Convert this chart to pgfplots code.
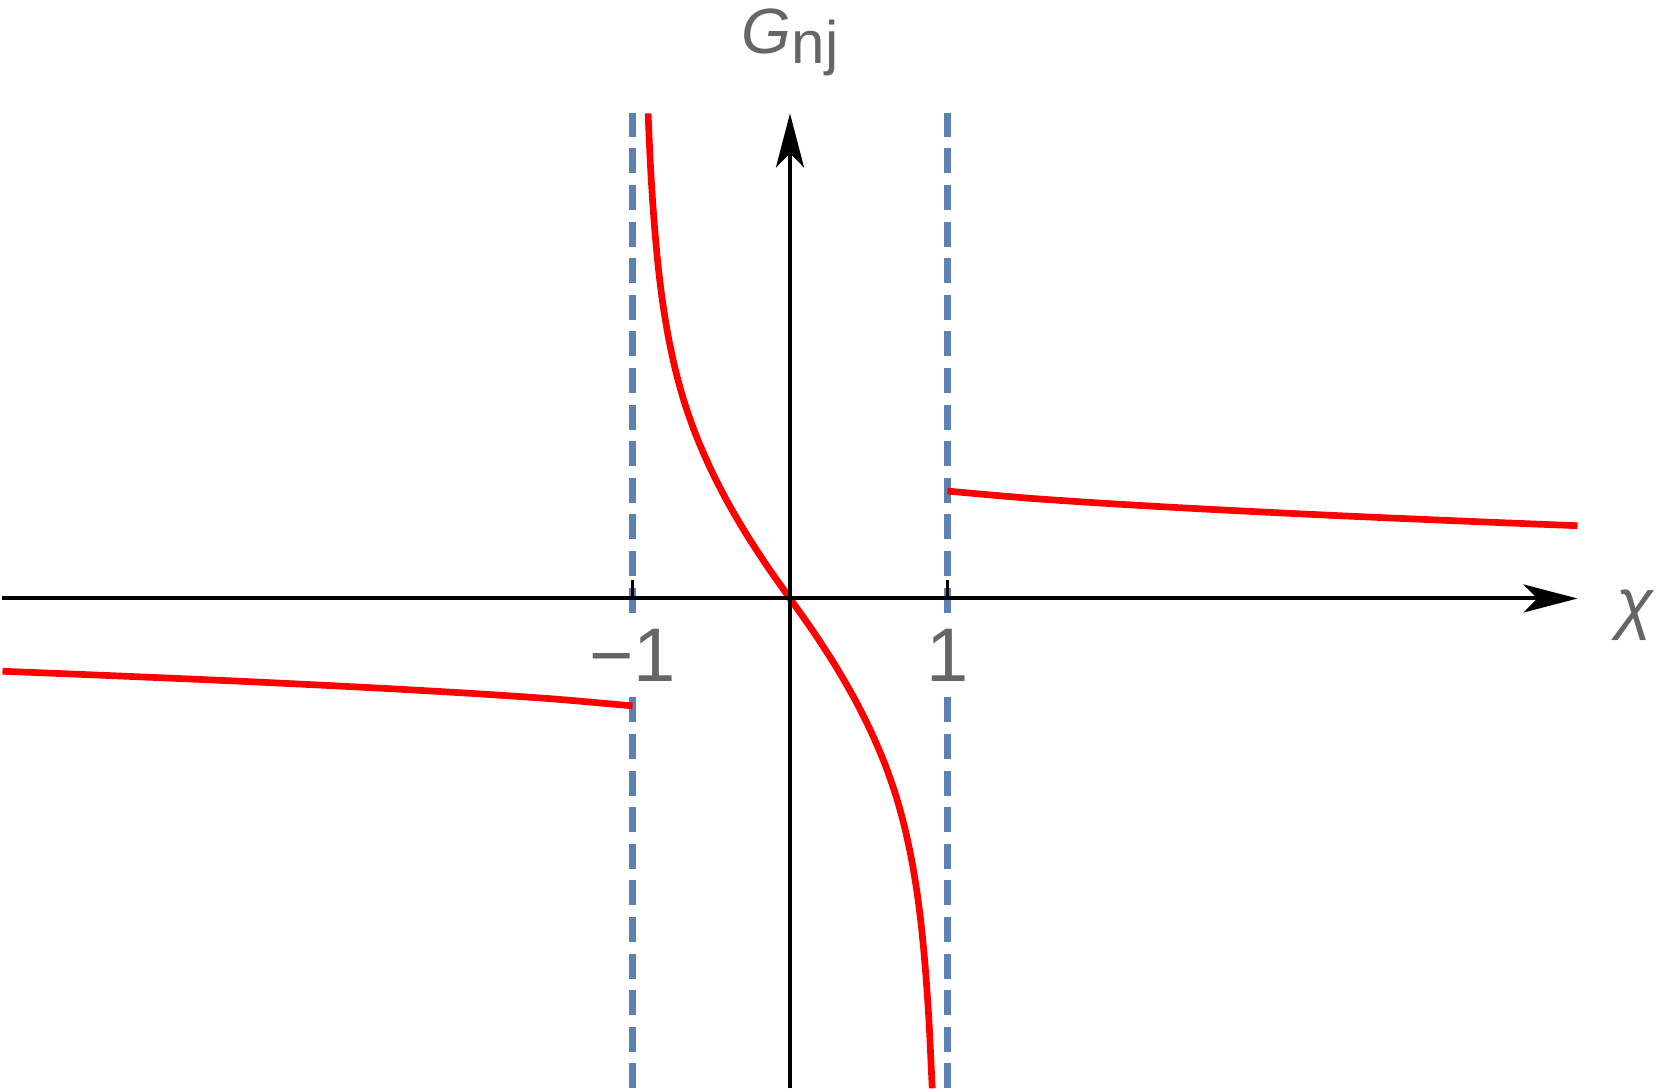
\documentclass[border=0pt]{standalone}
\usepackage{fontspec}
\setmainfont{Liberation Sans}
\usepackage{pgfplots}
\pgfplotsset{compat=1.18}
\usetikzlibrary{arrows.meta}
\definecolor{dashblue}{HTML}{5E81B5}
\definecolor{labgray}{HTML}{666666}
\begin{document}
\begin{tikzpicture}
\useasboundingbox (-197.5pt,-122.625pt) rectangle (217pt,149.625pt);
\begin{axis}[
    anchor=origin, at={(0,0)},
    x=39.375pt, y=39.375pt,
    xmin=-5, xmax=5, ymin=-3.11, ymax=3.08,
    axis lines=middle, axis on top,
    axis line style={line width=1pt, -{Stealth[length=13.5pt,width=7pt,inset=3.5pt]}},
    every inner x axis line/.append style={-{Stealth[length=13.5pt,width=7pt,inset=3.5pt]}},
    every inner y axis line/.append style={-{Stealth[length=13.5pt,width=7pt,inset=3.5pt]}},
    xtick={-1,1}, xticklabels={−1,1}, ytick=\empty,
    tick style={black, line width=0.8pt}, major tick length=4.5pt, tick align=inside,
    xticklabel style={font=\fontsize{19}{19}\selectfont, text=labgray, fill=white,
        inner sep=2pt, anchor=north, yshift=-5.4pt},
    xlabel={\itshape χ},
    ylabel={{\fontsize{16}{16}\selectfont\itshape G}{\fontsize{15}{15}\selectfont\raisebox{-2.5pt}{nj}}},
    every axis x label/.style={at={(current axis.right of origin)}, anchor=west, inner sep=0pt,
        xshift=9.5pt, yshift=-4.1pt, font=\fontsize{17}{17}\selectfont, text=labgray},
    every axis y label/.style={at={(current axis.above origin)}, anchor=base, inner sep=0pt,
        yshift=15pt, text=labgray},
]
% asymptotes
\addplot[dashblue, line width=1.67pt, dash pattern=on 6.25pt off 2.9pt] coordinates {(-1,-3.11) (-1,3.08)};
\addplot[dashblue, line width=1.67pt, dash pattern=on 6.25pt off 2.9pt] coordinates {(1,-3.11) (1,3.08)};
% outer branches
\addplot[red, line width=1.67pt, smooth] coordinates {
    (-5,-0.462) (-4.5,-0.482) (-4,-0.503) (-3.5,-0.525) (-3,-0.549)
    (-2.5,-0.575) (-2,-0.604) (-1.5,-0.638) (-1,-0.682)
};
\addplot[red, line width=1.67pt, smooth] coordinates {
    (1,0.682) (1.5,0.638) (2,0.604) (2.5,0.575) (3,0.549)
    (3.5,0.525) (4,0.503) (4.5,0.482) (5,0.462)
};
% middle branch
\addplot[red, line width=1.67pt, smooth] coordinates {
    (-0.901,3.08) (-0.895,2.94) (-0.885,2.73) (-0.872,2.52) (-0.856,2.31)
    (-0.836,2.10) (-0.810,1.89) (-0.776,1.68) (-0.732,1.47) (-0.675,1.26)
    (-0.602,1.05) (-0.512,0.84) (-0.406,0.63) (-0.284,0.42) (-0.148,0.21)
    (0,0)
    (0.148,-0.21) (0.284,-0.42) (0.406,-0.63) (0.512,-0.84) (0.602,-1.05)
    (0.675,-1.26) (0.732,-1.47) (0.776,-1.68) (0.810,-1.89) (0.836,-2.10)
    (0.856,-2.31) (0.872,-2.52) (0.885,-2.73) (0.895,-2.94) (0.903,-3.11)
};
\end{axis}
\end{tikzpicture}
\end{document}
